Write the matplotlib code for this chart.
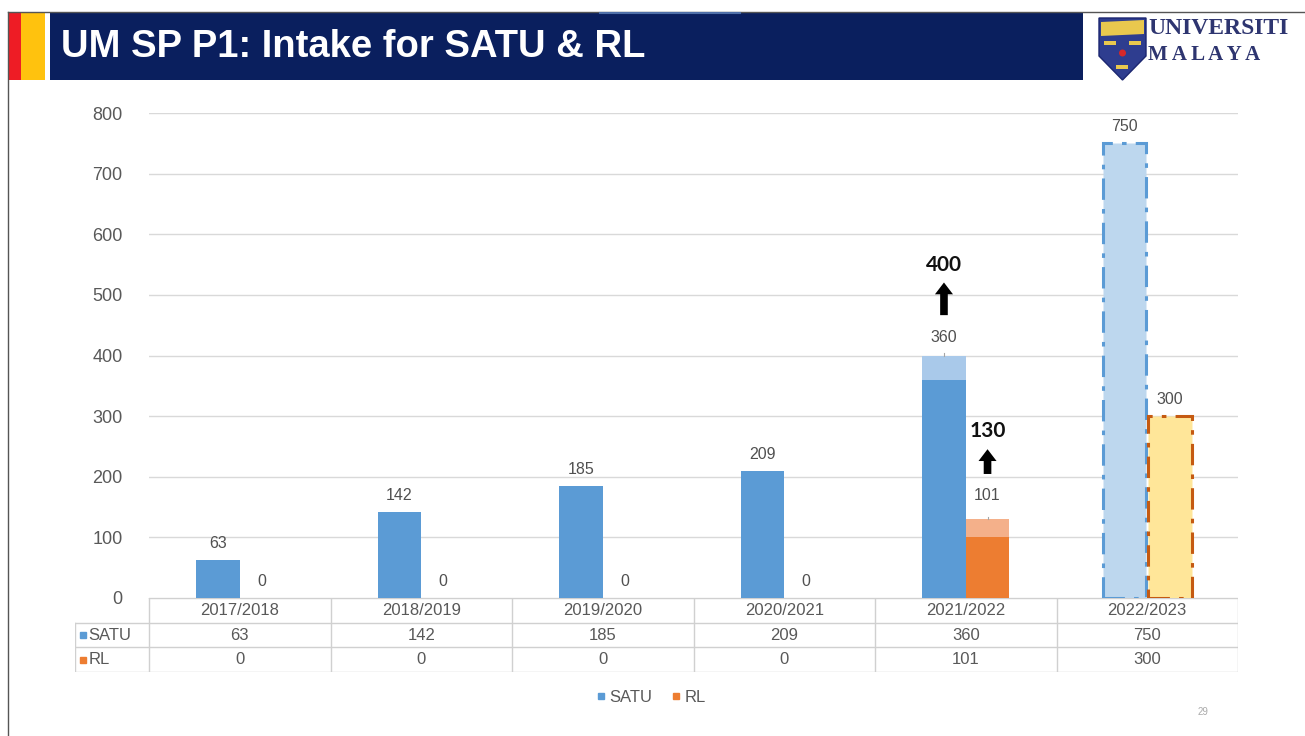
import matplotlib
matplotlib.use("Agg")
import matplotlib.pyplot as plt
from matplotlib.patches import Rectangle, Polygon, Circle
from matplotlib.lines import Line2D
from matplotlib import font_manager as fm

# ---------------- data ----------------
categories = ['2017/2018', '2018/2019', '2019/2020', '2020/2021', '2021/2022', '2022/2023']
satu = [63, 142, 185, 209, 360, 750]
rl = [0, 0, 0, 0, 101, 300]
target_idx = 4          # year with a target above the actual value
satu_target = 400
rl_target = 130
plan_idx = 5            # planned (dash-dot) year
yticks = [0, 100, 200, 300, 400, 500, 600, 700, 800]
title = 'UM SP P1: Intake for SATU & RL'
page_no = '29'

# ---------------- style ----------------
W, H = 1305, 736
plt.rcParams['font.family'] = ['Liberation Sans', 'DejaVu Sans']
avail = {f.name for f in fm.fontManager.ttflist}
title_family = ['Liberation Sans Narrow', 'Liberation Sans'] if 'Liberation Sans Narrow' in avail else ['Liberation Sans']

BLUE = '#5B9BD5'
ORANGE = '#ED7D31'
LBLUE = '#A9C9EA'
LORANGE = '#F4B08A'
PBLUE = '#BDD7EE'
PYELLOW = '#FFE699'
NAVY = '#0A1F5E'
TXT = '#595959'
LBL = '#505050'
GRID = '#D9D9D9'

fig = plt.figure(figsize=(W / 100, H / 100), dpi=100)
fig.patch.set_facecolor('white')

# background / header axes in pixel coordinates
bg = fig.add_axes([0, 0, 1, 1])
bg.set_xlim(0, W)
bg.set_ylim(H, 0)
bg.axis('off')
bg.add_patch(Rectangle((8, 12), 13, 68, color='#EE1C25', lw=0))
bg.add_patch(Rectangle((21, 12), 24, 68, color='#FFC20E', lw=0))
bg.add_patch(Rectangle((50, 12), 1033, 68, color=NAVY, lw=0))
bg.plot([8, W], [12, 12], color='#555555', lw=1)
bg.plot([8, 8], [12, H], color='#555555', lw=1)
bg.plot([600, 740], [13, 13], color='#4F6FA8', lw=1.5)
bg.text(61, 47, title, color='white', fontsize=27.5, fontweight='bold',
        family=title_family, va='center', ha='left')
# logo shield
bg.add_patch(Polygon([(1099, 18), (1146, 18), (1146, 56), (1122.5, 80), (1099, 56)],
                     closed=True, facecolor='#2E3D8F', edgecolor='#1B2670', lw=1))
bg.add_patch(Polygon([(1101, 22), (1144, 20), (1144, 34), (1101, 36)], closed=True,
                     facecolor='#E9C84E', lw=0))
for (x, y) in [(1110, 43), (1135, 43), (1122, 67)]:
    bg.add_patch(Rectangle((x - 6, y - 2), 12, 4, color='#E9C84E', lw=0))
bg.add_patch(Circle((1122.5, 53), 3.5, color='#D62828', lw=0))
bg.text(1148, 29, 'UNIVERSITI', color='#2E3570', fontsize=17, fontweight='bold',
        family=['Liberation Serif'], va='center', ha='left')
bg.text(1148, 55, 'M A L A Y A', color='#2E3570', fontsize=15, fontweight='bold',
        family=['Liberation Serif'], va='center', ha='left')
bg.text(1203, 712, page_no, color='#AAAAAA', fontsize=7, ha='center', va='center')

# ---------------- chart ----------------
x0, x1 = 149, 1238
ytop, ybot = 113, 598
ax = fig.add_axes([x0 / W, 1 - ybot / H, (x1 - x0) / W, (ybot - ytop) / H])
ax.set_facecolor('none')
ax.set_xlim(-0.5, len(categories) - 0.5)
ax.set_ylim(0, 800)
ax.set_yticks(yticks)
ax.set_yticklabels([str(v) for v in yticks], fontsize=13, color=TXT)
ax.tick_params(axis='y', length=0, pad=19)
ax.set_xticks([])
for s in ax.spines.values():
    s.set_visible(False)
ax.grid(axis='y', color=GRID, lw=1)
ax.set_axisbelow(True)

arrow_style = 'simple,head_width=1.3,head_length=0.85,tail_width=0.55'
bw = 0.24
n = len(categories)
for i in range(n):
    xs, xr = i - bw / 2, i + bw / 2
    if i == plan_idx:
        xs, xr = i - bw / 2 - 0.005, i + bw / 2 + 0.005
        ax.bar(xs, satu[i], bw, facecolor=PBLUE, edgecolor=BLUE, lw=2.2,
               linestyle=(0, (7, 3, 1.5, 3)), zorder=3)
        ax.bar(xr, rl[i], bw, facecolor=PYELLOW, edgecolor='#C55A11', lw=2.2,
               linestyle=(0, (7, 3, 1.5, 3)), zorder=3)
    else:
        ax.bar(xs, satu[i], bw, color=BLUE, zorder=3)
        ax.bar(xr, rl[i], bw, color=ORANGE, zorder=3)
    if i == target_idx:
        ax.bar(xs, satu_target - satu[i], bw, bottom=satu[i], color=LBLUE, zorder=3)
        ax.bar(xr, rl_target - rl[i], bw, bottom=rl[i], color=LORANGE, zorder=3)
        for xx, tv in [(xs, satu_target), (xr, rl_target)]:
            ax.plot([xx, xx], [tv, tv + 4], color='#A6A6A6', lw=0.8, zorder=3)
        ax.annotate(str(satu[i]), (xs, satu_target), xytext=(0, 13), textcoords='offset points',
                    ha='center', va='center', fontsize=11.5, color=LBL)
        ax.annotate(str(rl[i]), (xr, rl_target), xytext=(0, 17), textcoords='offset points',
                    ha='center', va='center', fontsize=11.5, color=LBL)
        # target values with arrows
        ax.annotate('', xy=(xs, 525), xytext=(xs, 462),
                    arrowprops=dict(arrowstyle=arrow_style, color='black', lw=0))
        ax.text(xs, 550, str(satu_target), ha='center', va='center', fontsize=15,
                fontweight='bold', color='#111111', family=['Lato', 'DejaVu Sans'])
        ax.annotate('', xy=(xr, 250), xytext=(xr, 200),
                    arrowprops=dict(arrowstyle=arrow_style, color='black', lw=0))
        ax.text(xr, 275, str(rl_target), ha='center', va='center', fontsize=15,
                fontweight='bold', color='#111111', family=['Lato', 'DejaVu Sans'])
    else:
        ax.annotate(str(satu[i]), (xs, satu[i]), xytext=(0, 12), textcoords='offset points',
                    ha='center', va='center', fontsize=11.5, color=LBL)
        ax.annotate(str(rl[i]), (xr, rl[i]), xytext=(0, 12),
                    textcoords='offset points', ha='center', va='center', fontsize=11.5, color=LBL)

# ---------------- data table ----------------
tl = 75
tbot = 672
tax = fig.add_axes([tl / W, 1 - tbot / H, (x1 - tl) / W, (tbot - ybot) / H])
tax.set_facecolor('none')
left_unit = -0.5 - (x0 - tl) / ((x1 - x0) / n)
tax.set_xlim(left_unit, n - 0.5)
tax.set_ylim(3, 0)
tax.axis('off')
lc = '#D0D0D0'
tax.plot([-0.5, n - 0.5], [0, 0], color=lc, lw=1)
for r in (1, 2, 3):
    tax.plot([left_unit, n - 0.5], [r, r], color=lc, lw=1)
tax.plot([left_unit, left_unit], [1, 3], color=lc, lw=1)
for k in range(n + 1):
    tax.plot([k - 0.5, k - 0.5], [0, 3], color=lc, lw=1)
for i, c in enumerate(categories):
    tax.text(i, 0.5, c, ha='center', va='center', fontsize=12, color=TXT)
    tax.text(i, 1.5, str(satu[i]), ha='center', va='center', fontsize=12, color=TXT)
    tax.text(i, 2.5, str(rl[i]), ha='center', va='center', fontsize=12, color=TXT)
for r, (name, col) in enumerate([('SATU', BLUE), ('RL', ORANGE)]):
    tax.plot([left_unit + 0.045], [1.5 + r], marker='s', ms=5, color=col, lw=0)
    tax.text(left_unit + 0.075, 1.5 + r, name, ha='left', va='center', fontsize=12, color=TXT)

# ---------------- legend ----------------
handles = [Line2D([], [], marker='s', ms=5, color=BLUE, lw=0),
           Line2D([], [], marker='s', ms=5, color=ORANGE, lw=0)]
fig.legend(handles, ['SATU', 'RL'], loc='center', bbox_to_anchor=(650 / W, 1 - 697 / H),
           ncol=2, frameon=False, fontsize=12, handletextpad=0.1, columnspacing=1.0,
           handlelength=0.8, labelcolor=TXT)

fig.savefig('out.png', dpi=100)
